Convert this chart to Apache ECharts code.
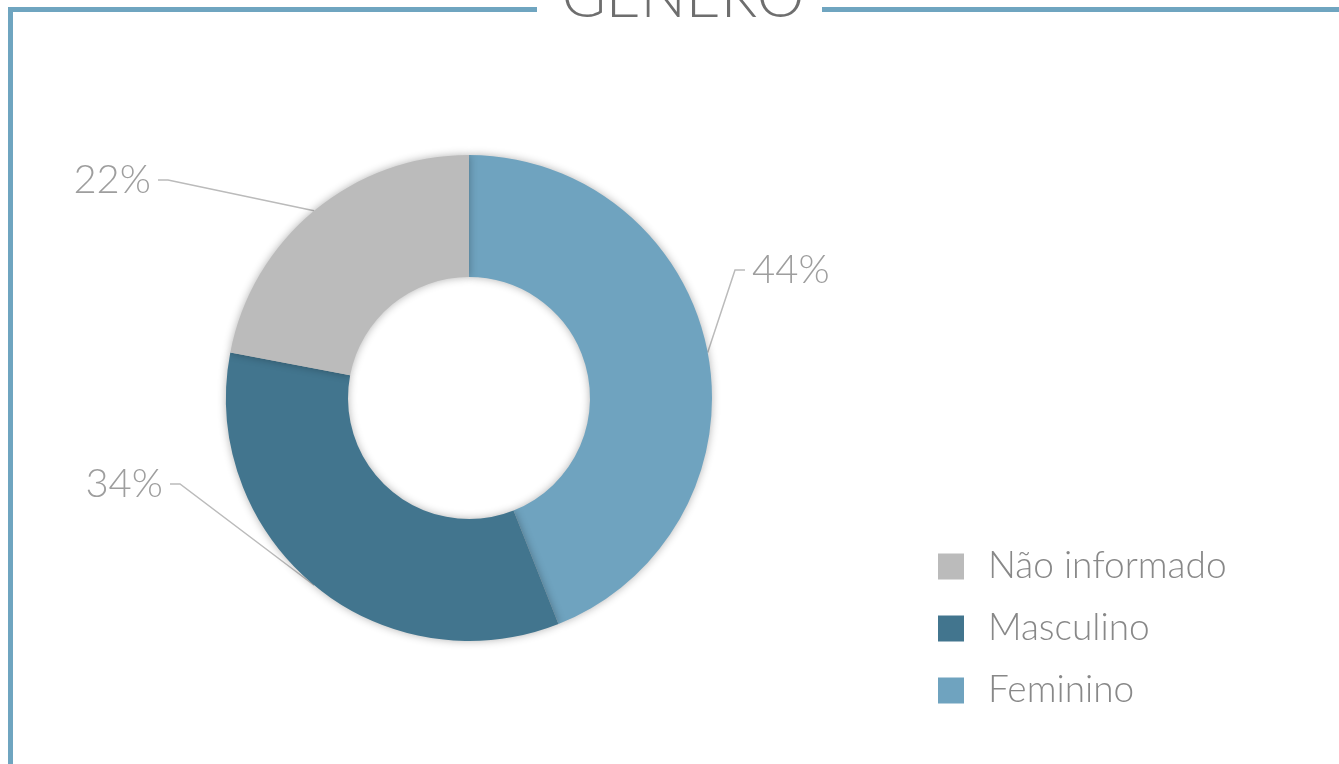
<!DOCTYPE html>
<html>
<head>
<meta charset="utf-8">
<script src="https://cdn.jsdelivr.net/npm/echarts@6/dist/echarts.min.js"></script>
<style>
  html, body { margin:0; padding:0; background:#fff; }
  #chart { width:1339px; height:764px; }
</style>
</head>
<body>
<div id="chart"></div>
<script>
// dados
const categorias = ['Feminino', 'Masculino', 'Não informado'];
const valores = [44, 34, 22];
const cores = ['#6fa3bf', '#42758e', '#bbbbbb'];
const ordemLegenda = ['Não informado', 'Masculino', 'Feminino'];

const fonte = 'Lato, "Open Sans", sans-serif';
// posição dos rótulos (só estilo)
const posRotulo = [
  { x: 745, y: 270, align: 'left' },
  { x: 170, y: 484, align: 'right' },
  { x: 158, y: 180, align: 'right' }
];

let myChart = echarts.init(document.getElementById('chart'));

myChart.setOption({
  animation: false,
  graphic: [
    { type: 'line', shape: { x1: 10.5, y1: 9.5, x2: 537, y2: 9.5 }, style: { stroke: '#6fa5c0', lineWidth: 5 } },
    { type: 'line', shape: { x1: 822, y1: 9.5, x2: 1339, y2: 9.5 }, style: { stroke: '#6fa5c0', lineWidth: 5 } },
    { type: 'line', shape: { x1: 10.5, y1: 7, x2: 10.5, y2: 764 }, style: { stroke: '#6fa5c0', lineWidth: 5 } },
    {
      type: 'text', x: 683, y: -2,
      style: { text: 'GÊNERO', fill: '#6e6e6e', font: '300 60px ' + fonte, align: 'center', verticalAlign: 'middle' }
    }
  ],
  legend: {
    orient: 'vertical',
    left: 933,
    top: 543,
    icon: 'rect',
    itemWidth: 26,
    itemHeight: 26,
    itemGap: 25,
    data: ordemLegenda,
    textStyle: { fontSize: 37, lineHeight: 26, color: '#888', fontFamily: fonte, fontWeight: 300, padding: [0, 0, 0, 19] }
  },
  series: [{
    type: 'pie',
    center: [469, 398],
    radius: [121, 243],
    startAngle: 90,
    clockwise: true,
    data: categorias.map((c, i) => ({ name: c, value: valores[i], itemStyle: { color: cores[i] } })),
    itemStyle: { shadowBlur: 8, shadowColor: 'rgba(0,0,0,0.3)' },
    label: {
      show: true,
      position: 'outside',
      formatter: '{c}%',
      fontSize: 40,
      color: '#9e9e9e',
      fontFamily: fonte,
      fontWeight: 300,
      padding: [0, 7],
      backgroundColor: 'rgba(255,255,255,0)'
    },
    labelLine: { show: true, length: 25, length2: 10, lineStyle: { color: '#bbb', width: 1.5 } },
    labelLayout: function (p) {
      const r = posRotulo[p.dataIndex];
      return { x: r.x, y: r.y, align: r.align, verticalAlign: 'middle' };
    },
    emphasis: { disabled: true }
  }]
});
</script>
</body>
</html>
